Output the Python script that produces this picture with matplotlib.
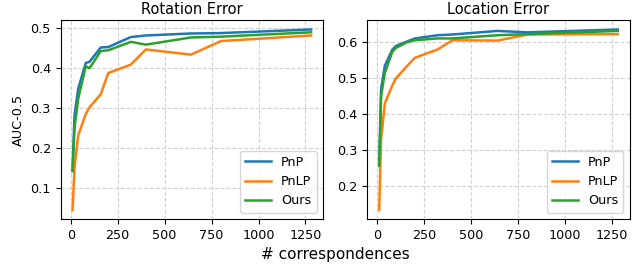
import matplotlib
matplotlib.use('Agg')
import matplotlib.pyplot as plt

# number of correspondences
n_corr = [10, 20, 40, 80, 100, 160, 200, 320, 400, 640, 800, 1280]

# rotation error AUC
rot_pnp = [0.145, 0.28, 0.349, 0.413, 0.416, 0.452, 0.453, 0.478, 0.482, 0.487, 0.488, 0.497]
rot_pnlp = [0.045, 0.15, 0.232, 0.285, 0.302, 0.335, 0.388, 0.409, 0.447, 0.434, 0.468, 0.482]
rot_ours = [0.142, 0.25, 0.324, 0.405, 0.400, 0.443, 0.445, 0.466, 0.459, 0.477, 0.479, 0.490]

# location error AUC
loc_pnp = [0.258, 0.47, 0.535, 0.580, 0.590, 0.603, 0.611, 0.620, 0.622, 0.632, 0.628, 0.636]
loc_pnlp = [0.132, 0.33, 0.43, 0.48, 0.500, 0.535, 0.557, 0.580, 0.606, 0.605, 0.622, 0.623]
loc_ours = [0.255, 0.45, 0.515, 0.574, 0.585, 0.601, 0.606, 0.611, 0.611, 0.620, 0.623, 0.632]

plt.rcParams['font.size'] = 9.2

fig = plt.figure(figsize=(6.36, 2.64), dpi=100)
ax1 = fig.add_axes([0.0954, 0.1705, 0.4125, 0.752])
ax2 = fig.add_axes([0.5775, 0.1705, 0.4125, 0.752])

for ax, title, pnp, pnlp, ours in [
    (ax1, 'Rotation Error', rot_pnp, rot_pnlp, rot_ours),
    (ax2, 'Location Error', loc_pnp, loc_pnlp, loc_ours),
]:
    ax.plot(n_corr, pnp, color='tab:blue', lw=1.8, label='PnP')
    ax.plot(n_corr, pnlp, color='tab:orange', lw=1.8, label='PnLP')
    ax.plot(n_corr, ours, color='tab:green', lw=1.8, label='Ours')
    ax.set_title(title, fontsize=10.5, pad=5)
    ax.set_xticks([0, 250, 500, 750, 1000, 1250])
    ax.grid(True, linestyle='--', color='#cccccc', alpha=0.9)
    ax.legend(loc='lower right', fontsize=9.2)

ax1.set_ylabel('AUC-0.5')
fig.text(0.528, 0.02, '# correspondences', ha='center', fontsize=11)

plt.savefig('out.png', dpi=100)
